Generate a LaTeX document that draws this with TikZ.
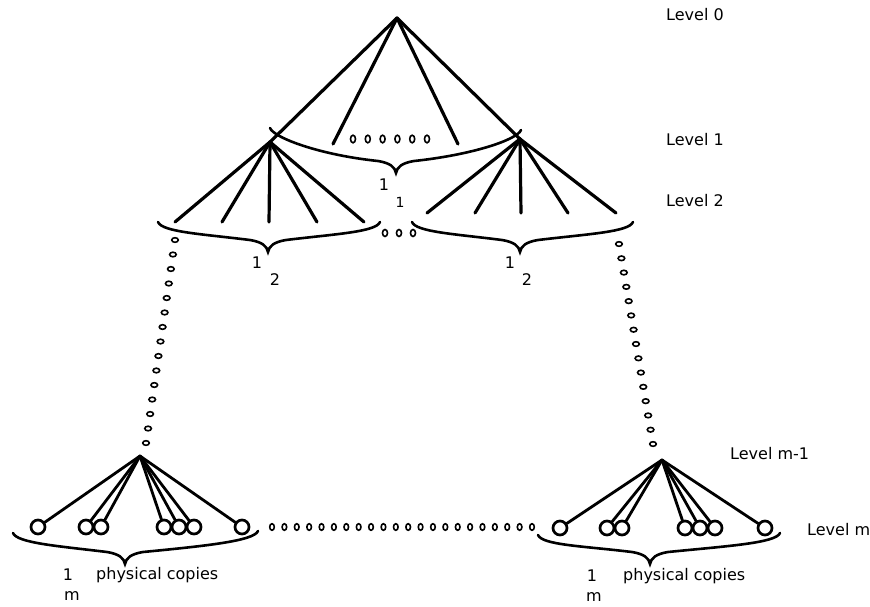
\documentclass[tikz,border=0pt]{standalone}
\usepackage{fontspec}
\setmainfont{DejaVu Sans}
\usetikzlibrary{calc}
\newcommand\mybrace[6]{%
  \draw[bracestyle] (#1,#2) .. controls ({#1+4},{#2+10}) and ({#1+0.4*(#3-#1)},{#4-18}) .. ({#3-18},{#4-12})
    .. controls ({#3-6},{#4-10}) and ({#3-1},{#4-6}) .. (#3,#4)
    .. controls ({#3+1},{#4-6}) and ({#3+6},{#4-10}) .. ({#3+18},{#4-12})
    .. controls ({#5-0.4*(#5-#3)},{#4-18}) and ({#5-4},{#6+10}) .. (#5,#6);}
\begin{document}
\begin{tikzpicture}[x=1pt,y=-1pt,
  edge/.style={line width=3.2pt,line cap=round,line join=round},
  bracestyle/.style={line width=2.6pt,line cap=round},
  leaf/.style={circle,draw,line width=2.7pt,minimum size=14pt,inner sep=0pt},
  dotc/.style={line width=1.6pt},
  lbl/.style={font=\fontsize{16pt}{19pt}\selectfont,inner sep=0pt},
  sub/.style={font=\fontsize{14pt}{17pt}\selectfont,inner sep=0pt}]
\useasboundingbox (0,0) rectangle (870,606);

% ---- top levels
\coordinate (r) at (397,18);
\coordinate (a) at (270,142);
\coordinate (b) at (520,139);
\coordinate (r2) at (333,144);
\coordinate (r3) at (458,144);
\draw[edge] (r) -- (a);
\draw[edge] (r) -- (r2);
\draw[edge] (r) -- (r3);
\draw[edge] (r) -- (b);
\foreach \x in {175,222,269,317,364}{
  \coordinate (a\x) at (\x,222);
  \draw[edge] (a) -- (a\x);}
\foreach \x in {427,475,521,568,616}{
  \coordinate (b\x) at (\x,213);
  \draw[edge] (b) -- (b\x);}

% braces
\mybrace{270}{128}{396}{173}{521}{130}
\mybrace{158}{222}{268}{252}{380}{222}
\mybrace{412}{222}{520}{252}{633}{222}
\mybrace{13}{533}{125}{564}{258}{531}
\mybrace{538}{535}{650}{564}{780}{533}

% dots
\foreach \i in {0,...,5}
  \draw[dotc] ({353+14.8*\i},139) ellipse [x radius=2.5pt,y radius=3.8pt];
\foreach \i in {0,1,2}
  \draw[dotc] ({385+14*\i},233) ellipse [x radius=2.5pt,y radius=3.5pt];
\foreach \i in {0,...,21}
  \draw[dotc] ({272+260*\i/21},527) ellipse [x radius=2.3pt,y radius=3.3pt];
\foreach \i in {0,...,14}
  \draw[dotc] ({175-29*\i/14},{240+203*\i/14}) ellipse [x radius=3.3pt,y radius=2.3pt];
\foreach \i in {0,...,14}
  \draw[dotc] ({619+34*\i/14},{244+200*\i/14}) ellipse [x radius=3.3pt,y radius=2.3pt];

% ---- lower subtrees
\coordinate (p) at (140,456);
\foreach \x [count=\k] in {38,86,101,164,179,194,242}{
  \node[leaf] (p\k) at (\x,527) {};
  \draw[edge,line width=2.8pt] (p) -- (p\k);}
\coordinate (q) at (662,460);
\foreach \x [count=\k] in {560,607,622,685,700,715,765}{
  \node[leaf] (q\k) at (\x,528) {};
  \draw[edge,line width=2.8pt] (q) -- (q\k);}

% ---- labels
\node[lbl,anchor=west] (L0) at (666,15) {Level 0};
\node[lbl,anchor=west] (L1) at (666,140) {Level 1};
\node[lbl,anchor=west] (L2) at (666,201) {Level 2};
\node[lbl,anchor=west] (Lm1) at (730,454) {Level m-1};
\node[lbl,anchor=west] (Lm) at (807,530) {Level m};

\node[lbl] (t1) at (384,185) {1};
\node[sub] (t1s) at (400,202) {1};
\node[lbl] (u1) at (257,263) {1};
\node[lbl] (u1s) at (275,280) {2};
\node[lbl] (v1) at (510,263) {1};
\node[lbl] (v1s) at (527,280) {2};

\node[lbl] (w1) at (68,575) {1};
\node[lbl,anchor=west] (wp) at (96,575) {physical copies};
\node[lbl] (wm) at (72,596) {m};
\node[lbl] (x1) at (592,576) {1};
\node[lbl,anchor=west] (xp) at (623,576) {physical copies};
\node[lbl] (xm) at (594,597) {m};
\end{tikzpicture}
\end{document}
